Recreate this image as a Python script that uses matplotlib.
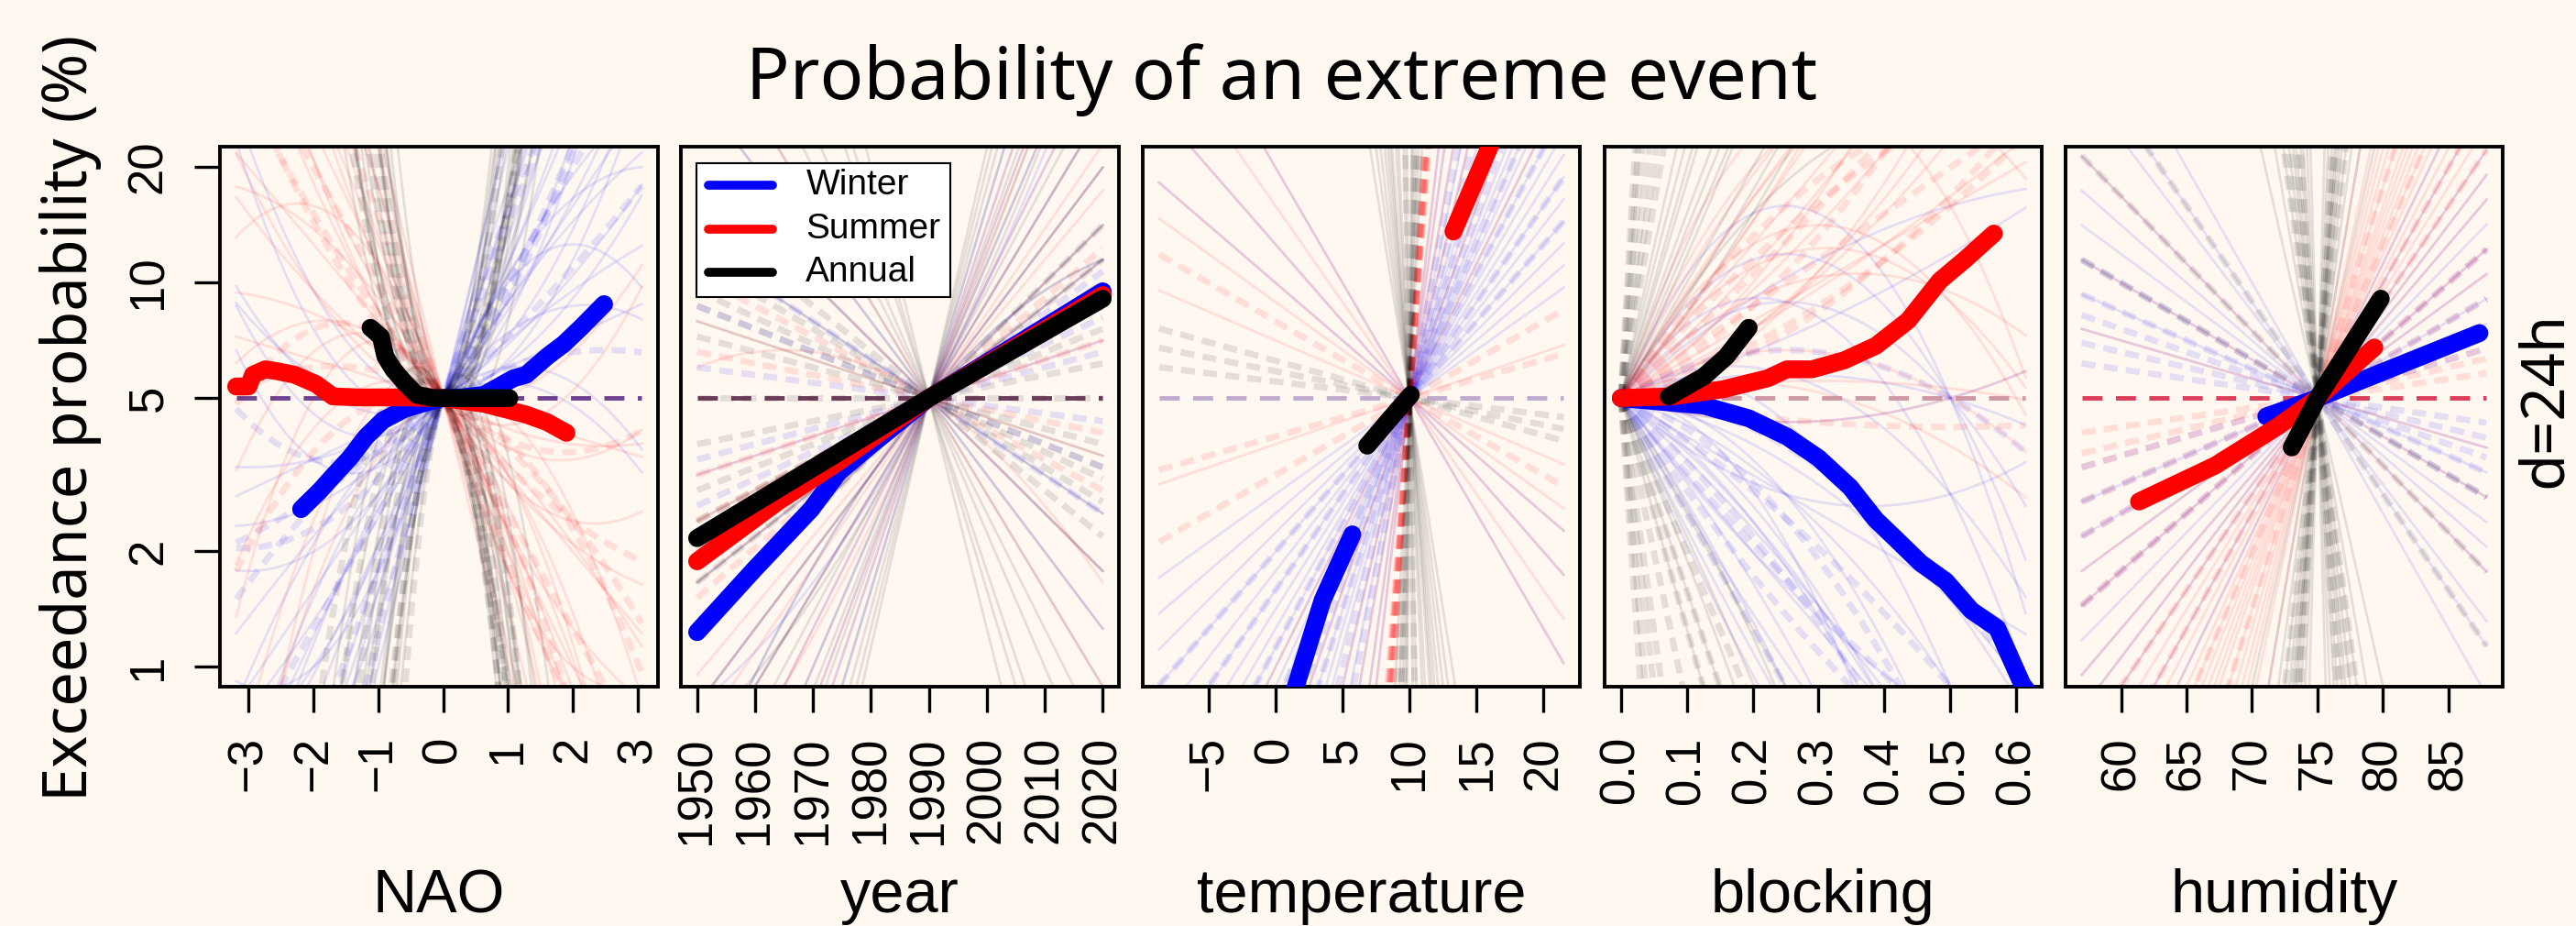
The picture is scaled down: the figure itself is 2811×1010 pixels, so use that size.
import numpy as np
import matplotlib
matplotlib.use("Agg")
import matplotlib.pyplot as plt
from matplotlib.patches import Rectangle

# ------------------------------------------------------------------ data
PANEL_NAMES = ["NAO", "year", "temperature", "blocking", "humidity"]
X_RANGES = [(-3.19, 3.06), (1950, 2020), (-8.7, 21.5), (0.0, 0.614), (57.0, 87.9)]
PIVOTS = [0.0, 1990.0, 10.0, 0.0, 75.0]
X_TICKS = [
    [-3, -2, -1, 0, 1, 2, 3],
    [1950, 1960, 1970, 1980, 1990, 2000, 2010, 2020],
    [-5, 0, 5, 10, 15, 20],
    [0.0, 0.1, 0.2, 0.3, 0.4, 0.5, 0.6],
    [60, 65, 70, 75, 80, 85],
]
X_TICKLABELS = [
    ["\u22123", "\u22122", "\u22121", "0", "1", "2", "3"],
    ["1950", "1960", "1970", "1980", "1990", "2000", "2010", "2020"],
    ["\u22125", "0", "5", "10", "15", "20"],
    ["0.0", "0.1", "0.2", "0.3", "0.4", "0.5", "0.6"],
    ["60", "65", "70", "75", "80", "85"],
]
Y_TICKS = [1, 2, 5, 10, 20]
Y_TICKLABELS = ["1", "2", "5", "10", "20"]
REF_PROB = 5.0
SERIES = ["Winter", "Summer", "Annual"]

# main (thick) curves: exceedance probability (%) against each covariate
NAO_WINTER_X = [-2.19, -1.90, -1.70, -1.44, -1.185, -0.925, -0.60, -0.30, 0.0, 0.30, 0.63, 1.085, 1.28, 1.60, 1.86, 2.12, 2.48]
NAO_WINTER_P = [2.57, 2.87, 3.13, 3.49, 3.97, 4.38, 4.68, 4.85, 5.0, 5.02, 5.10, 5.63, 5.75, 6.41, 6.92, 7.62, 8.78]
NAO_SUMMER_X = [-3.19, -3.0, -2.93, -2.74, -2.55, -2.29, -1.96, -1.70, -1.31, -0.66, 0.0, 0.63, 1.28, 1.60, 1.90]
NAO_SUMMER_P = [5.36, 5.36, 5.75, 5.94, 5.87, 5.75, 5.44, 5.05, 5.02, 5.02, 5.0, 4.83, 4.53, 4.33, 4.06]
NAO_ANNUAL_X = [-1.12, -0.96, -0.89, -0.77, -0.60, -0.41, -0.15, 0.30, 0.70, 1.02]
NAO_ANNUAL_P = [7.62, 7.22, 6.41, 5.94, 5.50, 5.10, 5.0, 5.0, 5.0, 5.0]

YEAR_WINTER_X = [1950, 1960, 1969.7, 1974.4, 1979.5, 1990, 2005, 2020]
YEAR_WINTER_P = [1.23, 1.80, 2.57, 3.20, 3.72, 5.0, 6.88, 9.48]
YEAR_SUMMER_X = [1950, 1964, 1974.4, 1990, 2005, 2020]
YEAR_SUMMER_P = [1.88, 2.69, 3.41, 5.0, 6.80, 9.27]
YEAR_ANNUAL_X = [1950, 1970, 1990, 2005, 2020]
YEAR_ANNUAL_P = [2.16, 3.29, 5.0, 6.73, 9.07]

TEMP_WINTER_X = [1.2, 3.51, 5.73]
TEMP_WINTER_P = [0.82, 1.49, 2.21]
TEMP_SUMMER_X = [13.27, 14.6, 16.2]
TEMP_SUMMER_P = [13.56, 17.4, 23.5]
TEMP_ANNUAL_X = [6.84, 8.5, 10.1]
TEMP_ANNUAL_P = [3.76, 4.4, 5.1]

BLOCK_WINTER_X = [0.0, 0.126, 0.194, 0.252, 0.300, 0.348, 0.387, 0.416, 0.455, 0.493, 0.532, 0.571, 0.609, 0.62]
BLOCK_WINTER_P = [5.0, 4.78, 4.43, 3.97, 3.49, 2.93, 2.41, 2.16, 1.86, 1.67, 1.40, 1.26, 0.90, 0.85]
BLOCK_SUMMER_X = [0.0, 0.078, 0.155, 0.223, 0.252, 0.29, 0.339, 0.387, 0.436, 0.484, 0.523, 0.566]
BLOCK_SUMMER_P = [5.0, 5.05, 5.27, 5.63, 5.94, 5.94, 6.27, 6.84, 7.96, 10.1, 11.5, 13.4]
BLOCK_ANNUAL_X = [0.073, 0.126, 0.16, 0.194]
BLOCK_ANNUAL_P = [5.05, 5.69, 6.41, 7.62]

HUM_WINTER_X = [71.09, 75.0, 87.36]
HUM_WINTER_P = [4.48, 5.0, 7.38]
HUM_SUMMER_X = [61.37, 67.2, 72.06, 75.0, 79.34]
HUM_SUMMER_P = [2.69, 3.34, 4.24, 5.0, 6.77]
HUM_ANNUAL_X = [73.03, 75.0, 79.83]
HUM_ANNUAL_P = [3.72, 5.0, 9.07]

# faint ensemble fits as (slope, curvature, dashed)
# in log10(probability / 5%) about each panel's pivot
NAO_FAN_BLUE = [(0.08, 0.0, 0), (0.12, 0.02, 0), (0.16, -0.01, 0), (0.2, 0.03, 0), (0.25, 0.0, 0),
                (0.3, 0.05, 0), (0.35, -0.03, 0), (0.1, 0.06, 0), (0.18, 0.08, 0), (0.05, 0.04, 0),
                (0.22, -0.05, 0), (0.4, 0.02, 0), (0.28, 0.1, 0), (0.14, -0.06, 0),
                (0.5, 0.0, 0), (0.6, -0.05, 0), (0.45, 0.05, 0), (0.55, 0.1, 0), (0.7, 0.0, 0),
                (0.4, -0.1, 0), (0.33, 0.02, 0), (0.09, -0.05, 0), (0.27, -0.02, 0), (0.38, -0.06, 0),
                (0.02, 0.08, 0), (0.11, 0.1, 0), (0.65, 0.08, 0),
                (0.15, 0.01, 1), (0.25, 0.04, 1), (0.1, -0.02, 1), (0.3, 0.0, 1), (0.2, 0.06, 1),
                (0.45, 0.0, 1), (0.55, -0.06, 1)]
NAO_FAN_RED = [(-0.05, 0.0, 0), (-0.1, 0.02, 0), (-0.15, -0.02, 0), (-0.2, 0.0, 0), (-0.25, 0.03, 0),
               (-0.3, -0.04, 0), (-0.12, -0.08, 0), (-0.08, -0.12, 0), (-0.18, 0.05, 0), (-0.35, 0.0, 0),
               (-0.22, -0.06, 0), (-0.04, 0.05, 0), (0.05, -0.1, 0), (-0.15, 0.08, 0), (-0.28, 0.06, 0),
               (-0.4, 0.0, 0), (-0.5, 0.05, 0), (-0.6, -0.05, 0), (-0.45, -0.1, 0), (-0.7, 0.0, 0),
               (-0.3, -0.15, 0), (-0.2, -0.2, 0), (-0.55, 0.1, 0), (-0.38, 0.04, 0), (-0.26, -0.1, 0),
               (-0.1, -0.03, 1), (-0.2, 0.02, 1), (-0.05, -0.06, 1), (-0.3, 0.0, 1), (-0.15, 0.04, 1),
               (-0.45, 0.02, 1), (-0.25, -0.08, 1)]
NAO_FAN_BLACK = [(0.0, 0.45, 0), (-0.2, 0.6, 0), (0.2, 0.5, 0), (0.1, 0.8, 0), (-0.1, 0.55, 0),
                 (0.3, 0.65, 0), (0.0, -0.6, 0), (0.3, -0.9, 0), (-0.2, -0.55, 0), (0.2, -1.2, 0),
                 (0.1, -0.8, 0), (0.4, -0.7, 0), (-0.3, 0.9, 0), (0.05, 0.4, 0), (-0.15, 0.7, 0),
                 (0.15, -0.65, 0), (-0.1, -1.0, 0), (0.25, 0.55, 0), (-0.25, -0.7, 0), (0.0, 1.0, 0),
                 (0.0, 0.35, 0), (-0.1, 0.42, 0), (0.15, 0.38, 0), (-0.3, 0.5, 0), (0.2, 0.9, 0),
                 (0.1, -0.45, 0), (-0.15, -0.4, 0), (0.35, -0.5, 0), (0.5, -1.0, 0), (-0.4, -0.5, 0),
                 (0.0, 0.5, 1), (-0.2, -0.6, 1), (0.2, -1.0, 1), (0.1, 0.7, 1), (-0.3, -0.5, 1),
                 (0.4, -1.5, 1), (0.3, -0.8, 1), (-0.1, 0.6, 1), (-0.35, -0.4, 1), (0.1, 0.4, 1),
                 (-0.2, -0.8, 1)]

YEAR_FAN_BLUE = [(0.015, 0, 0), (0.025, 0, 0), (0.01, 0, 0), (0.035, 0, 0), (-0.01, 0, 0), (0.03, 0, 0),
                 (0.045, 0, 0), (0.005, 0, 0), (-0.02, 0, 0), (0.02, 0, 0), (0.04, 0, 0), (0.012, 0, 0),
                 (-0.015, 0, 0), (0.028, 0.0002, 0), (0.05, 0, 0), (0.018, -0.0002, 0),
                 (0.004, 0, 1), (-0.006, 0, 1), (0.007, 0, 1), (0.009, 0, 1), (-0.01, 0, 1),
                 (0.011, 0, 1), (-0.002, 0, 1)]
YEAR_FAN_RED = [(0.02, 0, 0), (0.012, 0, 0), (0.03, 0, 0), (0.005, 0, 0), (-0.005, 0, 0), (0.025, 0, 0),
                (0.04, 0, 0), (-0.015, 0, 0), (0.018, 0, 0), (-0.025, 0, 0), (0.035, 0.0002, 0),
                (0.015, 0, 0), (0.045, 0, 0), (0.008, 0, 0), (-0.01, -0.0002, 0), (0.022, 0, 0),
                (0.005, 0, 1), (0.008, 0, 1), (-0.003, 0, 1), (0.01, 0, 1), (-0.008, 0, 1), (0.013, 0, 1)]
YEAR_FAN_BLACK = [(0.05, 0, 0), (0.035, 0, 0), (0.025, 0, 0), (0.015, 0, 0), (-0.01, 0, 0), (-0.02, 0, 0),
                  (-0.03, 0, 0), (-0.045, 0, 0), (0.06, 0, 0), (-0.06, 0, 0), (0.008, 0, 0), (0.02, 0, 0),
                  (-0.015, 0, 0), (0.042, 0, 0), (0.03, 0.0002, 0), (0.055, 0, 0), (-0.025, 0, 0),
                  (-0.035, 0, 0), (0.028, 0, 0), (0.018, -0.0002, 0), (-0.05, 0, 0), (0.065, 0, 0),
                  (0.012, 0, 0), (-0.005, 0, 0), (0.038, 0, 0),
                  (0.006, 0, 1), (-0.004, 0, 1), (0.009, 0, 1), (0.003, 0, 1), (-0.007, 0, 1), (0.012, 0, 1),
                  (-0.009, 0, 1), (0.0, 0, 1), (-0.012, 0, 1), (0.008, 0, 1), (0.015, 0, 1), (-0.006, 0, 1)]

TEMP_FAN_BLUE = [(0.03, 0, 0), (0.04, 0, 0), (0.06, 0, 0), (0.08, 0, 0), (0.1, 0, 0), (0.12, 0, 0),
                 (0.15, 0, 0), (0.2, 0, 0), (0.25, 0, 0), (-0.04, 0, 0), (-0.06, 0, 0), (0.05, 0, 0),
                 (0.07, 0, 0), (0.09, 0, 0), (0.035, 0, 0), (0.045, 0, 0), (0.055, 0, 0), (0.065, 0, 0),
                 (0.075, 0, 0), (0.085, 0, 0), (0.11, 0, 0), (0.13, 0, 0), (0.17, 0, 0), (0.3, 0, 0),
                 (-0.03, 0, 0), (0.025, 0, 0),
                 (0.05, 0, 1), (0.08, 0, 1), (0.11, 0, 1), (0.14, 0, 1), (0.18, 0, 1), (0.065, 0, 1),
                 (0.095, 0, 1), (0.04, 0, 1)]
TEMP_FAN_RED = [(-0.03, 0, 0), (-0.04, 0, 0), (-0.05, 0, 0), (0.07, 0, 0), (0.1, 0, 0), (0.15, 0, 0),
                (0.2, 0, 0), (-0.025, 0, 0), (0.012, 0, 0), (-0.06, 0, 0), (0.3, 0, 0), (-0.015, 0, 0),
                (0.25, 0, 0),
                (0.45, 0, 1), (0.5, 0, 1), (0.55, 0, 1), (0.6, 0, 1), (0.48, 0, 1), (0.52, 0, 1),
                (0.58, 0, 1), (0.5, 0, 1), (0.01, 0, 1), (-0.02, 0, 1), (0.02, 0, 1)]
TEMP_FAN_BLACK = [(-0.22, 0, 0), (-0.3, 0, 0), (-0.4, 0, 0), (-0.5, 0, 0), (-0.65, 0, 0), (-0.8, 0, 0),
                  (1.0, 0, 0), (1.5, 0, 0), (2.5, 0, 0), (4.0, 0, 0), (-1.5, 0, 0), (-3.0, 0, 0),
                  (-0.26, 0, 0), (-0.35, 0, 0), (0.7, 0, 0), (-0.45, 0, 0),
                  (1.2, 0, 1), (2.0, 0, 1), (-2.0, 0, 1), (0.9, 0, 1),
                  (-0.0097, 0, 1), (-0.0043, 0, 1), (-0.007, 0, 1)]

BLOCK_FAN_BLUE = [(-1, 0, 0), (-2, 0, 0), (-3, 1, 0), (-0.5, -2, 0), (0, -4, 0), (-1.5, -1, 0),
                  (1, -3, 0), (2, -4, 0), (3, -6, 0), (0.5, -1, 0), (-2.5, -2, 0), (1.5, -1, 0),
                  (-4, 2, 0), (0.5, 0.5, 0), (4, -8, 0), (-1, -3, 0), (-1.2, -2, 0), (-0.8, -3, 0),
                  (-2, -2, 0), (0, -6, 0), (-1.5, 2, 0), (-0.5, 1, 0), (1, -5, 0), (2.5, -6, 0),
                  (-3.5, 1, 0), (0.2, -2.5, 0), (-0.3, -1.5, 0), (-2.2, 1, 0),
                  (-1, -1, 1), (-2, 0.5, 1), (0, -2, 1), (-3, 0, 1), (1, -2, 1), (-1.5, -1.5, 1),
                  (-0.5, -3, 1), (-2.5, 1, 1)]
BLOCK_FAN_RED = [(1, 0, 0), (2, 0, 0), (1.5, 1, 0), (0.5, 2, 0), (3, -2, 0), (2.5, -4, 0),
                 (4, -5, 0), (0.8, 0.5, 0), (-0.5, 1, 0), (1, -2, 0), (3.5, -3, 0), (2, 1.5, 0),
                 (0.3, -0.5, 0), (1.2, 1, 0), (0.6, 1.5, 0), (2.8, -1, 0), (1.8, -2.5, 0), (3, -5, 0),
                 (0.2, 3, 0), (1, 2.5, 0), (2.2, 0.5, 0), (5, -8, 0), (0.5, -1.5, 0),
                 (0.5, 1, 1), (1.2, 0, 1), (2, -1, 1), (0.8, 2, 1), (-0.3, 0.3, 1), (1.5, 0.5, 1),
                 (0.3, 1.5, 1), (2.5, -2, 1)]
BLOCK_FAN_BLACK = [(3, 0, 0), (4, 0, 0), (5, -2, 0), (6, 0, 0), (2.5, 1, 0), (-3, 0, 0),
                   (-5, 0, 0), (-4, -2, 0), (3.5, 2, 0), (7, -3, 0), (-2.5, -3, 0), (4.5, -1, 0),
                   (5.5, 1, 0), (3, -3, 0), (-6, 0, 0), (-3.5, -1, 0), (8, -4, 0), (2, 2, 0),
                   (10, 0, 1), (-12, 0, 1), (15, 0, 1), (-8, 0, 1), (20, 0, 1), (-20, 0, 1),
                   (25, 0, 1), (-25, 0, 1), (30, 0, 1), (-15, 0, 1), (12, 0, 1), (-5, 0, 1),
                   (-4, 0, 1), (-6, 0, 1)]

HUM_FAN_BLUE = [(-0.02, 0, 0), (-0.03, 0, 0), (0.02, 0, 0), (0.03, 0, 0), (0.04, 0, 0), (-0.01, 0, 0),
                (0.05, 0, 0), (-0.045, 0, 0), (0.015, 0, 0), (-0.025, 0, 0), (0.06, 0, 0), (0.025, 0, 0),
                (-0.035, 0, 0), (0.035, 0, 0), (-0.015, 0, 0), (0.045, 0, 0), (-0.05, 0, 0), (0.07, 0, 0),
                (-0.06, 0, 0),
                (-0.012, 0, 1), (-0.015, 0, 1), (0.01, 0, 1), (-0.008, 0, 1), (0.02, 0, 1), (-0.02, 0, 1),
                (0.015, 0, 1), (-0.005, 0, 1), (0.03, 0, 1)]
HUM_FAN_RED = [(0.04, 0, 0), (0.06, 0, 0), (0.08, 0, 0), (0.1, 0, 0), (0.12, 0, 0), (0.14, 0, 0),
               (0.05, 0, 0), (0.07, 0, 0), (0.09, 0, 0), (-0.02, 0, 0), (-0.035, 0, 0), (0.03, 0, 0),
               (0.045, 0, 0), (0.055, 0, 0), (0.065, 0, 0), (0.075, 0, 0), (0.085, 0, 0), (0.095, 0, 0),
               (0.11, 0, 0), (0.13, 0, 0), (0.16, 0, 0), (0.2, 0, 0), (-0.01, 0, 0), (0.025, 0, 0),
               (0.005, 0, 1), (0.01, 0, 1), (0.015, 0, 1), (0.02, 0, 1), (0.08, 0, 1), (0.11, 0, 1),
               (0.03, 0, 1), (0.05, 0, 1), (0.06, 0, 1), (0.008, 0, 1)]
HUM_FAN_BLACK = [(0.2, 0, 0), (0.3, 0, 0), (0.5, 0, 0), (-0.2, 0, 0), (-0.3, 0, 0), (-0.5, 0, 0),
                 (0.15, 0, 0), (-0.15, 0, 0), (0.8, 0, 0), (-0.8, 0, 0), (0.25, 0, 0), (0.35, 0, 0),
                 (0.4, 0, 0), (-0.35, 0, 0), (-0.4, 0, 0), (0.6, 0, 0), (-0.6, 0, 0), (1.2, 0, 0),
                 (-1.2, 0, 0), (0.45, 0, 0), (-0.25, 0, 0),
                 (0.4, 0, 1), (-0.4, 0, 1), (0.6, 0, 1), (-0.25, 0, 1), (0.3, 0, 1), (-0.035, 0, 1),
                 (-0.05, 0, 1), (0.5, 0, 1), (-0.5, 0, 1), (-0.3, 0, 1), (-0.02, 0, 1)]

MAIN = [
    [(NAO_WINTER_X, NAO_WINTER_P), (NAO_SUMMER_X, NAO_SUMMER_P), (NAO_ANNUAL_X, NAO_ANNUAL_P)],
    [(YEAR_WINTER_X, YEAR_WINTER_P), (YEAR_SUMMER_X, YEAR_SUMMER_P), (YEAR_ANNUAL_X, YEAR_ANNUAL_P)],
    [(TEMP_WINTER_X, TEMP_WINTER_P), (TEMP_SUMMER_X, TEMP_SUMMER_P), (TEMP_ANNUAL_X, TEMP_ANNUAL_P)],
    [(BLOCK_WINTER_X, BLOCK_WINTER_P), (BLOCK_SUMMER_X, BLOCK_SUMMER_P), (BLOCK_ANNUAL_X, BLOCK_ANNUAL_P)],
    [(HUM_WINTER_X, HUM_WINTER_P), (HUM_SUMMER_X, HUM_SUMMER_P), (HUM_ANNUAL_X, HUM_ANNUAL_P)],
]
FANS = [
    [NAO_FAN_BLUE, NAO_FAN_RED, NAO_FAN_BLACK],
    [YEAR_FAN_BLUE, YEAR_FAN_RED, YEAR_FAN_BLACK],
    [TEMP_FAN_BLUE, TEMP_FAN_RED, TEMP_FAN_BLACK],
    [BLOCK_FAN_BLUE, BLOCK_FAN_RED, BLOCK_FAN_BLACK],
    [HUM_FAN_BLUE, HUM_FAN_RED, HUM_FAN_BLACK],
]

# ------------------------------------------------------------------ style
BG = "#FFF8F1"
COLORS = ["#0000FF", "#FF0000", "#000000"]
REF_LINE_COLORS = ["#5E2E86", "#5A2848", "#B9A3CB", "#C98E9C", "#D8284A"]
W, H = 2811, 1010
PANEL_PX = [(240, 718), (743, 1221), (1247, 1724), (1751, 2228), (2254, 2731)]
TOP_PX, BOT_PX = 160, 749

plt.rcParams["font.family"] = ["Liberation Sans", "DejaVu Sans"]
fig = plt.figure(figsize=(W / 100, H / 100), dpi=100, facecolor=BG)

ylo = 10 ** (-0.04 * np.log10(20))
yhi = 20 * 10 ** (0.04 * np.log10(20))

axes = []
for i in range(5):
    x0p, x1p = PANEL_PX[i]
    ax = fig.add_axes([x0p / W, 1 - BOT_PX / H, (x1p - x0p) / W, (BOT_PX - TOP_PX) / H])
    ax.set_facecolor(BG)
    ax.set_yscale("log")
    lo, hi = X_RANGES[i]
    ext = 0.04 * (hi - lo)
    ax.set_xlim(lo - ext, hi + ext)
    ax.set_ylim(ylo, yhi)

    xs = np.linspace(lo, hi, 300)
    piv = PIVOTS[i]
    # faint ensemble curves
    for ci, fan in enumerate(FANS[i]):
        for (b, c, dashed) in fan:
            d = xs - piv
            ys = REF_PROB * 10 ** np.clip(b * d + c * d * d, -3, 3)
            if dashed:
                ax.plot(xs, ys, color=COLORS[ci], alpha=0.10, lw=5.0,
                        dashes=(2.2, 1.3), solid_capstyle="butt", zorder=2)
            else:
                ax.plot(xs, ys, color=COLORS[ci], alpha=0.10, lw=2.0, zorder=2)
    # reference 5% line
    ax.plot([lo, hi], [REF_PROB, REF_PROB], color=REF_LINE_COLORS[i], lw=3.5,
            dashes=(4.5, 3.0), alpha=0.9, zorder=3)
    # main curves
    for ci, (mx, mp) in enumerate(MAIN[i]):
        ax.plot(mx, mp, color=COLORS[ci], lw=14, solid_capstyle="round",
                solid_joinstyle="round", zorder=5 + ci)

    ax.set_xticks(X_TICKS[i])
    ax.set_xticklabels(X_TICKLABELS[i], rotation=90, fontsize=38)
    ax.tick_params(axis="x", length=20, width=2.4, pad=19, color="black")
    ax.yaxis.set_minor_locator(matplotlib.ticker.NullLocator())
    if i == 0:
        ax.set_yticks(Y_TICKS)
        ax.set_yticklabels(Y_TICKLABELS, rotation=90, fontsize=38, va="center")
        ax.tick_params(axis="y", length=20, width=2.4, pad=18)
    else:
        ax.set_yticks([])
    for s in ax.spines.values():
        s.set_linewidth(2.8)
        s.set_color("black")
    cx = (x0p + x1p) / 2 / W
    fig.text(cx, 15 / H, PANEL_NAMES[i], ha="center", va="baseline", fontsize=48)
    axes.append(ax)

# legend in the year panel
lax = axes[1]
lax.add_patch(Rectangle((0.0362, 0.7217), 0.6149 - 0.0362, 0.9701 - 0.7217,
                        transform=lax.transAxes, facecolor="white", edgecolor="black",
                        lw=1.5, zorder=20))
for k, (name, yy) in enumerate(zip(SERIES, [0.9287, 0.8472, 0.7667])):
    lax.plot([0.062, 0.209], [yy, yy], transform=lax.transAxes, color=COLORS[k], lw=7,
             solid_capstyle="round", zorder=21)
    lax.text(0.2854, yy, name, transform=lax.transAxes, va="center", ha="left",
             fontsize=28, zorder=21)

fig.text(0.4975, 1 - 108 / H, "Probability of an extreme event", ha="center", va="baseline",
         fontsize=57, family=["Noto Sans", "DejaVu Sans"])
fig.text(77 / W, 1 - 456 / H, "Exceedance probability (%)", ha="center", va="center",
         rotation=90, fontsize=48, family=["Noto Sans", "DejaVu Sans"])
fig.text(2778 / W, 1 - 436 / H, "d=24h", ha="center", va="center", rotation=90,
         fontsize=47, family=["Noto Sans", "DejaVu Sans"])

fig.savefig("out.png", dpi=100, facecolor=BG)
